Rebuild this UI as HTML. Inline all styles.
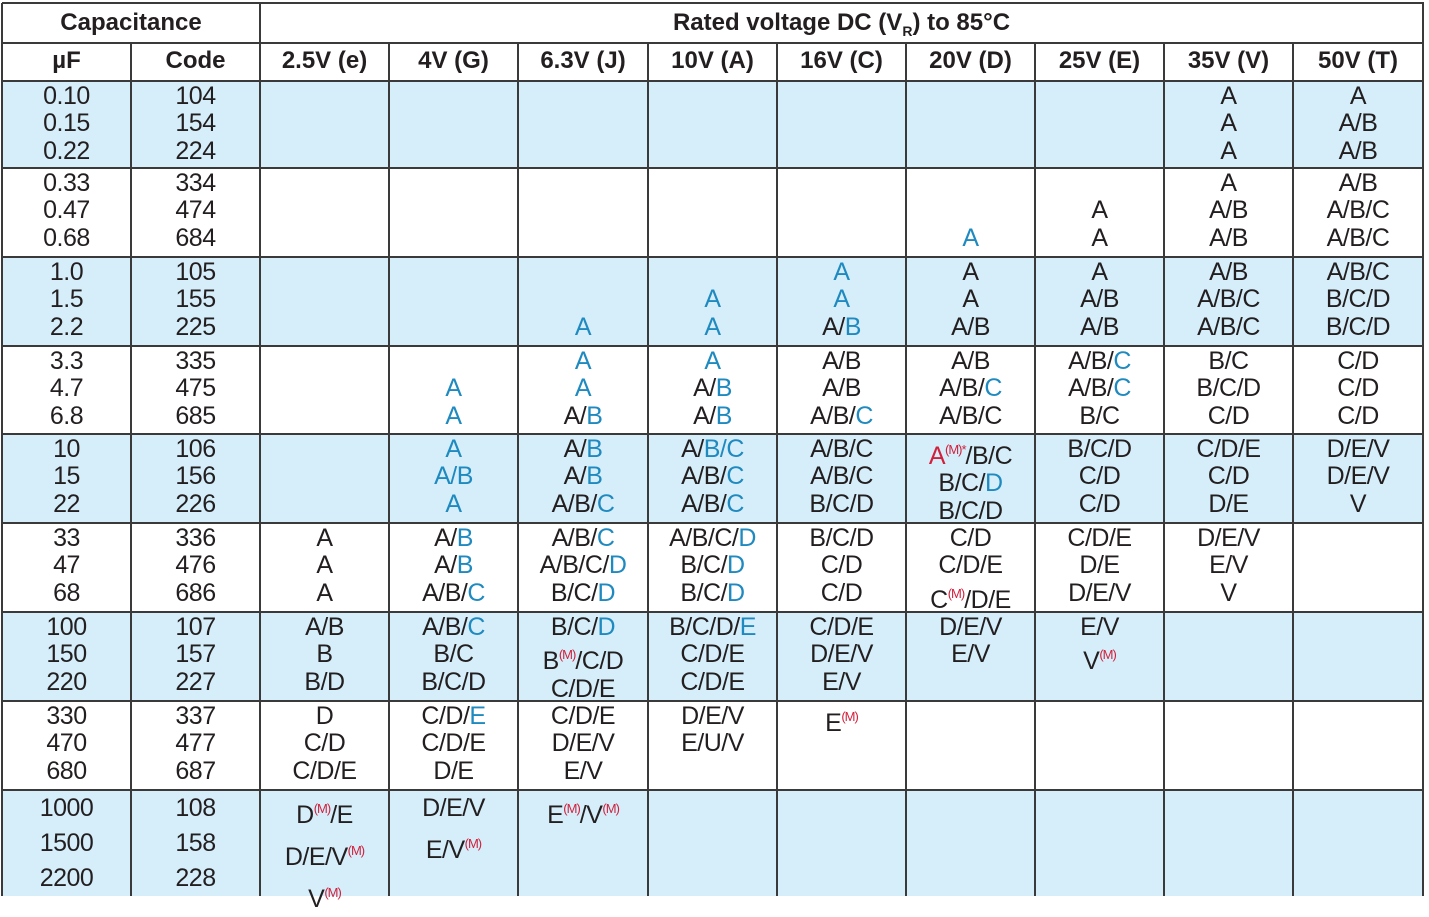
<!DOCTYPE html>
<html><head><meta charset="utf-8">
<style>
body{margin:0;width:1429px;height:896px;background:#fff;overflow:hidden;font-family:"Liberation Sans",sans-serif;color:#231f20;}
#t{position:absolute;left:0;top:0;width:1429px;height:896px;}
.bg{position:absolute;background:#d5eefa;}
.hl,.vl{position:absolute;background:#3a3a3a;}
.cell{position:absolute;text-align:center;font-size:25px;letter-spacing:-0.5px;}
.cell div{white-space:nowrap;}
.h{position:absolute;text-align:center;font-weight:bold;font-size:24px;line-height:38px;}
.b{color:#1f8ac0;}
.r{color:#d2203c;}
sup.m{color:#d2203c;font-size:13px;vertical-align:10px;letter-spacing:-1px;}
</style></head><body>
<div id="t">
<div class="h" style="left:2px;top:4px;width:258px;">Capacitance</div>
<div class="h" style="left:260px;top:4px;width:1163px;">Rated voltage DC (V<sub style="font-size:14px;">R</sub>) to 85°C</div>
</div>
<script>
const colX=[2,131,260,389,518,648,777,906,1035,1164,1293,1423];
const rowY=[3,43,81,168,257,346,434,523,612,701,790,896];
const headers=["µF","Code","2.5V (e)","4V (G)","6.3V (J)","10V (A)","16V (C)","20V (D)","25V (E)","35V (V)","50V (T)"];
const caps=[["0.10","0.15","0.22"],["0.33","0.47","0.68"],["1.0","1.5","2.2"],["3.3","4.7","6.8"],["10","15","22"],["33","47","68"],["100","150","220"],["330","470","680"],["1000","1500","2200"]];
const codes=[["104","154","224"],["334","474","684"],["105","155","225"],["335","475","685"],["106","156","226"],["336","476","686"],["107","157","227"],["337","477","687"],["108","158","228"]];
// {X}=blue, R{X}=red, ^=(M) superscript
const cases=[
[[],[],[],[],[],[],[],["A","A","A"],["A","A/B","A/B"]],
[[],[],[],[],[],["","","{A}"],["","A","A"],["A","A/B","A/B"],["A/B","A/B/C","A/B/C"]],
[[],[],["","","{A}"],["","{A}","{A}"],["{A}","{A}","A/{B}"],["A","A","A/B"],["A","A/B","A/B"],["A/B","A/B/C","A/B/C"],["A/B/C","B/C/D","B/C/D"]],
[[],["","{A}","{A}"],["{A}","{A}","A/{B}"],["{A}","A/{B}","A/{B}"],["A/B","A/B","A/B/{C}"],["A/B","A/B/{C}","A/B/C"],["A/B/{C}","A/B/{C}","B/C"],["B/C","B/C/D","C/D"],["C/D","C/D","C/D"]],
[[],["{A}","{A/B}","{A}"],["A/{B}","A/{B}","A/B/{C}"],["A/{B/C}","A/B/{C}","A/B/{C}"],["A/B/C","A/B/C","B/C/D"],["R{A}^*/B/C","B/C/{D}","B/C/D"],["B/C/D","C/D","C/D"],["C/D/E","C/D","D/E"],["D/E/V","D/E/V","V"]],
[["A","A","A"],["A/{B}","A/{B}","A/B/{C}"],["A/B/{C}","A/B/C/{D}","B/C/{D}"],["A/B/C/{D}","B/C/{D}","B/C/{D}"],["B/C/D","C/D","C/D"],["C/D","C/D/E","C^/D/E"],["C/D/E","D/E","D/E/V"],["D/E/V","E/V","V"],[]],
[["A/B","B","B/D"],["A/B/{C}","B/C","B/C/D"],["B/C/{D}","B^/C/D","C/D/E"],["B/C/D/{E}","C/D/E","C/D/E"],["C/D/E","D/E/V","E/V"],["D/E/V","E/V"],["E/V","V^"],[],[]],
[["D","C/D","C/D/E"],["C/D/{E}","C/D/E","D/E"],["C/D/E","D/E/V","E/V"],["D/E/V","E/U/V"],["E^"],[],[],[],[]],
[["D^/E","D/E/V^","V^"],["D/E/V","E/V^"],["E^/V^"],[],[],[],[],[],[]]
];
function fmt(s){
  return s.replace(/R\{([^}]*)\}/g,'<span class="r">$1</span>')
          .replace(/\{([^}]*)\}/g,'<span class="b">$1</span>')
          .replace(/\^\*/g,'<sup class="m">(M)*</sup>')
          .replace(/\^/g,'<sup class="m">(M)</sup>');
}
const T=document.getElementById('t');
// backgrounds
for(let g=0;g<9;g++){
  if(g%2===0){
    const d=document.createElement('div');d.className='bg';
    
    
    d.style.left=colX[0]+'px';d.style.top=rowY[g+2]+'px';
    d.style.width=(colX[11]-colX[0])+'px';d.style.height=(rowY[g+3]-rowY[g+2])+'px';
    T.appendChild(d);
  }
}
// header row
headers.forEach((h,i)=>{
  const d=document.createElement('div');d.className='h';
  
  
  d.style.left=colX[i]+'px';d.style.top='42px';d.style.width=(colX[i+1]-colX[i])+'px';
  d.textContent=h;T.appendChild(d);
});
function addCell(g,c,lines){
  const d=document.createElement('div');d.className='cell';
  
  
  const last=g===8;
  d.style.left=colX[c]+'px';d.style.width=(colX[c+1]-colX[c])+'px';
  d.style.top=(rowY[g+2]+(last?1:2))+'px';
  d.style.lineHeight=(last?35:27.3)+'px';
  d.innerHTML=lines.map(l=>'<div>'+(fmt(l)||'&nbsp;')+'</div>').join('');
  T.appendChild(d);
}
for(let g=0;g<9;g++){
  addCell(g,0,caps[g]);addCell(g,1,codes[g]);
  for(let c=0;c<9;c++){ if(cases[g][c].length) addCell(g,c+2,cases[g][c]); }
}
// lines
function hl(y,x1,x2,n){const d=document.createElement('div');d.className='hl';
  
  
  d.style.left=x1+'px';d.style.top=(y-1)+'px';d.style.width=(x2-x1+1)+'px';d.style.height='2px';T.appendChild(d);}
function vl(x,y1,y2,n){const d=document.createElement('div');d.className='vl';
  
  
  d.style.left=(x-1)+'px';d.style.top=y1+'px';d.style.width='2px';d.style.height=(y2-y1)+'px';T.appendChild(d);}
hl(3,2,1423,'top-border');
hl(43,2,1423,'header-divider');
for(let r=2;r<11;r++) hl(rowY[r],2,1423,'row-divider-'+r);
vl(2,3,896,'left-border');vl(1423,3,896,'right-border');
vl(260,3,896,'capacitance-divider');
vl(131,43,896,'code-divider');
for(let c=3;c<11;c++) vl(colX[c],43,896,'voltage-divider-'+c);
</script>
</body></html>
